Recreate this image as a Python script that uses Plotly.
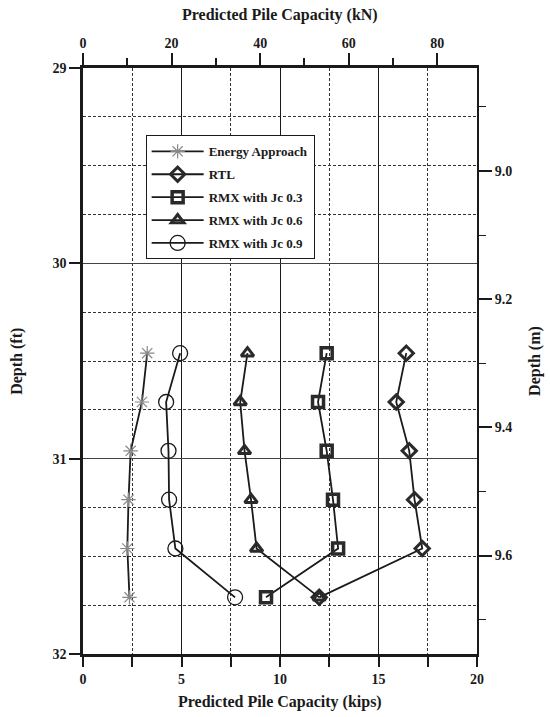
import plotly.graph_objects as go

depth_ft = [30.46, 30.71, 30.96, 31.21, 31.46, 31.71]
energy = [3.26, 2.99, 2.42, 2.31, 2.25, 2.36]
rtl = [16.41, 15.90, 16.56, 16.83, 17.22, 11.99]
rmx03 = [12.37, 11.93, 12.37, 12.69, 12.95, 9.29]
rmx06 = [8.35, 7.98, 8.20, 8.53, 8.81, 11.99]
rmx09 = [4.93, 4.22, 4.34, 4.37, 4.69, 7.72]

KIP_TO_KN = 4.44822
FT_TO_M = 0.3048
x_range = [0, 20]
y_range = [32, 29]

FONT = "Liberation Serif"
INK = "#1a1a1a"

fig = go.Figure()

series = [
    ("Energy Approach", energy, dict(symbol="asterisk-open", size=12, color="#888888", line=dict(color="#777777", width=1.2))),
    ("RTL", rtl, dict(symbol="diamond-open", size=11, color="#2a2a2a", line=dict(color="#2a2a2a", width=3))),
    ("RMX with Jc 0.3", rmx03, dict(symbol="square-open", size=11, color="#2a2a2a", line=dict(color="#2a2a2a", width=3.5))),
    ("RMX with Jc 0.6", rmx06, dict(symbol="triangle-up-open", size=11, color="#2a2a2a", line=dict(color="#2a2a2a", width=3))),
    ("RMX with Jc 0.9", rmx09, dict(symbol="circle-open", size=15, color=INK, line=dict(color=INK, width=1.3))),
]
for i, (name, vals, mk) in enumerate(series):
    fig.add_trace(go.Scatter(
        x=vals, y=depth_ft, name=name, mode="lines+markers",
        line=dict(color=INK, width=1.8), legendgroup=f"g{i}",
        marker=mk, xaxis="x", yaxis="y",
    ))

fig.add_trace(go.Scatter(x=[None], y=[None], xaxis="x2", yaxis="y", showlegend=False, hoverinfo="skip"))
fig.add_trace(go.Scatter(x=[None], y=[None], xaxis="x", yaxis="y2", showlegend=False, hoverinfo="skip"))

tickfont = dict(family=FONT, size=14, color=INK, weight="bold")
titlefont = dict(family=FONT, size=16, color=INK, weight="bold")

fig.update_layout(
    width=550, height=717,
    margin=dict(l=83, r=73, t=68, b=63),
    paper_bgcolor="white", plot_bgcolor="white",
    font=dict(family=FONT, color=INK),
    showlegend=True,
    legend=dict(
        x=0.159, y=0.885, xanchor="left", yanchor="top",
        bgcolor="white", bordercolor=INK, borderwidth=1,
        font=dict(family=FONT, size=13, color=INK, weight="bold"),
        itemwidth=52, traceorder="grouped", tracegroupgap=3,
    ),
    xaxis=dict(
        range=x_range, dtick=5, tick0=0, automargin=False,
        showgrid=True, gridcolor=INK, gridwidth=1.3,
        showline=True, linecolor=INK, linewidth=2.5,
        ticks="outside", ticklen=10, tickwidth=2, tickcolor=INK,
        minor=dict(dtick=2.5, tick0=0, showgrid=True, gridcolor="#333333", griddash="3px,2px", gridwidth=1,
                   ticks="outside", ticklen=10, tickwidth=1.5, tickcolor=INK),
        tickfont=tickfont, zeroline=False,
    ),
    xaxis2=dict(
        range=[x_range[0] * KIP_TO_KN, x_range[1] * KIP_TO_KN], overlaying="x", side="top",
        dtick=20, tick0=0, showgrid=False, automargin=False,
        showline=True, linecolor=INK, linewidth=2.5,
        ticks="outside", ticklen=12, tickwidth=2, tickcolor=INK,
        minor=dict(dtick=10, tick0=0, ticks="outside", ticklen=7, tickwidth=1.5, tickcolor=INK, showgrid=False),
        tickfont=tickfont, zeroline=False,
    ),
    yaxis=dict(
        range=y_range, dtick=1, tick0=29, automargin=False,
        showgrid=True, gridcolor="#444444", gridwidth=1.3,
        showline=True, linecolor=INK, linewidth=2.5,
        ticks="outside", ticklen=11, tickwidth=2, tickcolor=INK,
        minor=dict(dtick=0.25, tick0=29, showgrid=True, gridcolor="#333333", griddash="3px,2px", gridwidth=1),
        tickfont=tickfont, zeroline=False,
    ),
    yaxis2=dict(
        range=[y_range[0] * FT_TO_M, y_range[1] * FT_TO_M], overlaying="y", side="right",
        dtick=0.2, tick0=9.0, tickformat=".1f", showgrid=False, automargin=False,
        showline=True, linecolor=INK, linewidth=2,
        ticks="outside", ticklen=13, tickwidth=1.5, tickcolor=INK,
        minor=dict(dtick=0.1, tick0=9.0, ticks="outside", ticklen=7, tickwidth=1.2, tickcolor=INK, showgrid=False),
        tickfont=tickfont, zeroline=False,
    ),
    annotations=[
        dict(text="Predicted Pile Capacity (kips)", xref="paper", yref="paper", x=0.5, y=-0.082,
             xanchor="center", yanchor="middle", showarrow=False, font=titlefont),
        dict(text="Predicted Pile Capacity (kN)", xref="paper", yref="paper", x=0.5, y=1.091,
             xanchor="center", yanchor="middle", showarrow=False, font=titlefont),
        dict(text="Depth (ft)", xref="paper", yref="paper", x=-0.168, y=0.5, textangle=-90,
             xanchor="center", yanchor="middle", showarrow=False, font=titlefont),
        dict(text="Depth (m)", xref="paper", yref="paper", x=1.147, y=0.5, textangle=-90,
             xanchor="center", yanchor="middle", showarrow=False, font=titlefont),
    ],
)

fig.write_html("out.html", config={"displayModeBar": False},
               post_script="document.body.style.margin='0';document.body.style.padding='0';document.body.style.overflow='hidden';")
